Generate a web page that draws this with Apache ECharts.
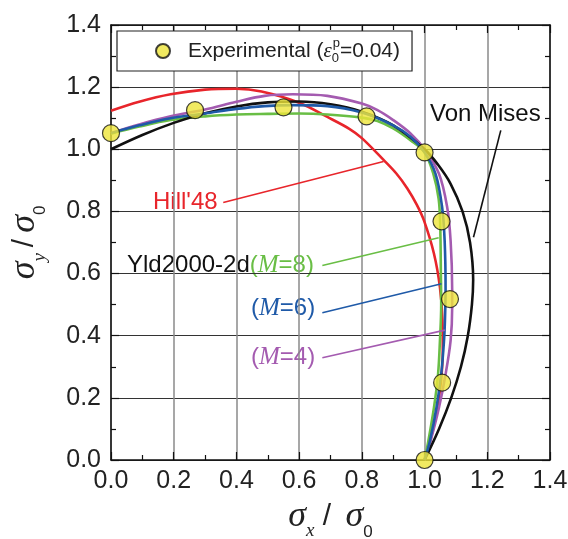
<!DOCTYPE html>
<html><head><meta charset="utf-8">
<script src="https://cdn.jsdelivr.net/npm/echarts@6/dist/echarts.min.js"></script>
<style>html,body{margin:0;padding:0;background:#fff}#c{width:568px;height:539px}</style>
</head><body><div id="c"></div>
<script>
// ---- data ----
const tickLabels = ['0.0','0.2','0.4','0.6','0.8','1.0','1.2','1.4'];
const expX = [0, 0.268, 0.55, 0.815, 1.0, 1.054, 1.081, 1.056, 1.0];
const expY = [1.052, 1.126, 1.135, 1.106, 0.99, 0.768, 0.518, 0.249, 0];
const vonMises = [[0,1.0],[0.1,1.046],[0.2,1.085],[0.3,1.116],[0.4,1.138],[0.5,1.151],[0.6,1.154],[0.7,1.145],[0.8,1.121],[0.9,1.077],[1.0,1.0],[1.043,0.95],[1.083,0.889],[1.121,0.8],[1.145,0.7],[1.155,0.58],[1.151,0.5],[1.138,0.4],[1.116,0.3],[1.085,0.2],[1.046,0.1],[1.0,0]];
const hill48 = [[0,1.124],[0.09,1.153],[0.19,1.177],[0.3,1.192],[0.4,1.195],[0.48,1.186],[0.6,1.15],[0.69,1.104],[0.76,1.066],[0.8,1.036],[0.87,0.965],[0.91,0.922],[0.945,0.874],[0.975,0.822],[0.998,0.771],[1.03,0.664],[1.049,0.556],[1.057,0.45],[1.058,0.35],[1.052,0.25],[1.038,0.15],[1.02,0.07],[1.0,0]];
const yldM8 = [[0,1.05],[0.09,1.073],[0.19,1.094],[0.3,1.106],[0.4,1.112],[0.5,1.114],[0.6,1.115],[0.69,1.112],[0.8,1.102],[0.85,1.091],[0.9,1.067],[0.955,1.029],[1.0,0.99],[1.028,0.921],[1.045,0.84],[1.05,0.75],[1.052,0.6],[1.053,0.5],[1.049,0.384],[1.043,0.276],[1.03,0.169],[1.012,0.061],[1.0,0]];
const yldM6 = [[0,1.052],[0.09,1.077],[0.19,1.1],[0.3,1.115],[0.4,1.13],[0.49,1.139],[0.58,1.142],[0.69,1.139],[0.8,1.118],[0.9,1.077],[0.955,1.04],[1.0,0.99],[1.035,0.921],[1.056,0.814],[1.064,0.706],[1.067,0.55],[1.065,0.45],[1.062,0.384],[1.053,0.276],[1.038,0.169],[1.017,0.061],[1.0,0]];
const yldM4 = [[0,1.052],[0.09,1.08],[0.19,1.106],[0.3,1.128],[0.4,1.153],[0.49,1.172],[0.58,1.177],[0.69,1.172],[0.8,1.147],[0.85,1.126],[0.9,1.094],[0.955,1.051],[1.0,1.0],[1.046,0.921],[1.072,0.814],[1.083,0.706],[1.088,0.55],[1.088,0.49],[1.083,0.384],[1.067,0.276],[1.046,0.169],[1.019,0.061],[1.0,0]];
// annotation arrows: [from, to] in data units
const arrowVM = [[1.243,1.061],[1.156,0.717]];
const arrowHill = [[0.358,0.829],[0.869,0.961]];
const arrowM8 = [[0.674,0.626],[1.045,0.715]];
const arrowM6 = [[0.674,0.474],[1.054,0.567]];
const arrowM4 = [[0.674,0.329],[1.065,0.418]];

const C = {red:'#e8252b', green:'#69be45', blue:'#1f5aa8', purple:'#a45bb0', black:'#111'};
const SANS = '"Liberation Sans", Arial, sans-serif';
const SERIF = '"Liberation Serif", "Times New Roman", serif';

function arrow(a, color){
  return {silent:true, symbol:['none','arrow'], symbolSize:[0,10], animation:false,
    lineStyle:{color:color, width:1.6, type:'solid'}, label:{show:false},
    emphasis:{disabled:true},
    data:[[{coord:a[0]},{coord:a[1]}]]};
}
function curve(name, data, color, ar){
  return {name:name, type:'line', data:data, smooth:0.35, showSymbol:false, symbol:'none',
    lineStyle:{color:color, width:2.6}, z:3, silent:true, markLine: ar ? arrow(ar, color) : undefined};
}
const fmt = v => tickLabels[Math.round(v/0.2)] || '';
const axisCommon = {type:'value', min:0, max:1.4, interval:0.2,
  axisLine:{show:true, onZero:false, lineStyle:{color:'#111', width:1.5}},
  axisTick:{show:true, inside:true, length:8, lineStyle:{color:'#111', width:1.2}},
  minorTick:{show:true, splitNumber:2, length:5, lineStyle:{color:'#111', width:1.2}}};
function titleRich(slPad){
  return {
    s:{fontFamily:SERIF, fontStyle:'italic', fontSize:36, lineHeight:48, color:'#222'},
    sx:{fontFamily:SERIF, fontStyle:'italic', fontSize:19, lineHeight:8, verticalAlign:'bottom', color:'#222'},
    s0:{fontFamily:SANS, fontSize:17, lineHeight:8, verticalAlign:'bottom', color:'#222'},
    sl:{fontFamily:SANS, fontSize:30, lineHeight:48, padding:slPad, color:'#222'}};
}

const chart = echarts.init(document.getElementById('c'), null, {renderer:'canvas'});
chart.setOption({
  animation:false,
  backgroundColor:'#fff',
  grid:{left:111, right:18, top:25, bottom:79, containLabel:false, outerBoundsMode:'none'},
  xAxis:[
    Object.assign({}, axisCommon, {position:'bottom',
      axisLabel:{formatter:fmt, fontSize:25, color:'#222', fontFamily:SANS, margin:9},
      splitLine:{show:true, lineStyle:{color:'#8a8a8a', width:1.5}},
      name:'{s|σ}{sx|x}{sl| / }{s|σ}{s0|0}', nameLocation:'middle', nameGap:28,
      nameTextStyle:{rich:titleRich([0,6,0,0])}}),
    Object.assign({}, axisCommon, {position:'top', axisLabel:{show:false}, splitLine:{show:false}})
  ],
  yAxis:[
    Object.assign({}, axisCommon, {position:'left',
      axisLabel:{formatter:fmt, fontSize:25, color:'#222', fontFamily:SANS, margin:10},
      splitLine:{show:true, lineStyle:{color:'#333', width:1.1}},
      name:'{s|σ}{sx|y}{sl|/}{s|σ}{s0|0}', nameLocation:'middle', nameGap:62,
      nameTextStyle:{rich:titleRich([0,6,0,6])}}),
    Object.assign({}, axisCommon, {position:'right', axisLabel:{show:false}, splitLine:{show:false}})
  ],
  legend:{show:true, data:['Experimental'], left:117, top:31, orient:'horizontal',
    backgroundColor:'#fff', borderColor:'#222', borderWidth:1.2, borderRadius:0,
    padding:[6,12,6,38], itemWidth:14, itemHeight:14, selectedMode:false,
    formatter:() => '{a|Experimental (}{e|ε}{sb|0}{sp|p}{a|=0.04)}',
    textStyle:{padding:[0,0,0,13], rich:{
      a:{fontFamily:SANS, fontSize:21, lineHeight:28, color:'#222'},
      e:{fontFamily:SERIF, fontStyle:'italic', fontSize:21, lineHeight:28, color:'#222'},
      sb:{fontFamily:SANS, fontSize:13, lineHeight:8, verticalAlign:'bottom', width:1, color:'#222'},
      sp:{fontFamily:SANS, fontSize:13, lineHeight:20, verticalAlign:'top', color:'#222'}}}},
  series:[
    curve('Hill48', hill48, C.red, arrowHill),
    curve('M4', yldM4, C.purple, arrowM4),
    curve('M8', yldM8, C.green, arrowM8),
    curve('VonMises', vonMises, C.black, arrowVM),
    curve('M6', yldM6, C.blue, arrowM6),
    {name:'Experimental', type:'scatter', data:expX.map((x,i)=>[x,expY[i]]), symbol:'circle', symbolSize:17,
      itemStyle:{color:'#eee53a', borderColor:'#111', borderWidth:1.2}, z:6, silent:true}
  ],
  graphic:[
    {type:'text', style:{x:430, y:114, text:'Von Mises', verticalAlign:'middle', font:'24px '+SANS, fill:'#111'}},
    {type:'text', style:{x:153, y:202, text:"Hill'48", verticalAlign:'middle', font:'24px '+SANS, fill:C.red}},
    {type:'text', style:{x:127, y:265, verticalAlign:'middle', text:'{k|Yld2000-2d}{g|(}{gm|M}{g|=8)}',
      rich:{k:{fontFamily:SANS, fontSize:24, fill:'#111'}, g:{fontFamily:SANS, fontSize:24, fill:C.green},
            gm:{fontFamily:SERIF, fontStyle:'italic', fontSize:25, fill:C.green}}}},
    {type:'text', style:{x:251, y:308, verticalAlign:'middle', text:'{g|(}{gm|M}{g|=6)}',
      rich:{g:{fontFamily:SANS, fontSize:24, fill:C.blue}, gm:{fontFamily:SERIF, fontStyle:'italic', fontSize:25, fill:C.blue}}}},
    {type:'text', style:{x:251, y:357, verticalAlign:'middle', text:'{g|(}{gm|M}{g|=4)}',
      rich:{g:{fontFamily:SANS, fontSize:24, fill:C.purple}, gm:{fontFamily:SERIF, fontStyle:'italic', fontSize:25, fill:C.purple}}}}
  ]
});
</script></body></html>
